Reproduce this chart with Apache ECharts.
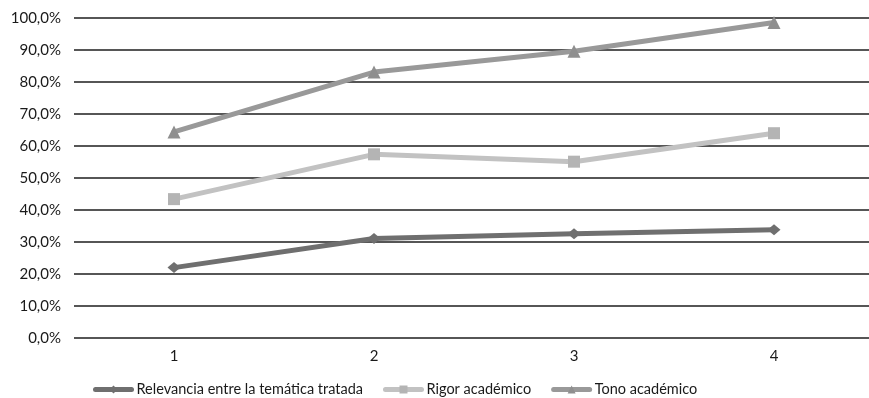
<!DOCTYPE html>
<html>
<head>
<meta charset="utf-8">
<script src="https://cdn.jsdelivr.net/npm/echarts@6/dist/echarts.min.js"></script>
<style>
  html, body { margin: 0; padding: 0; background: #fff; }
  #chart { width: 869px; height: 398px; }
</style>
</head>
<body>
<div id="chart"></div>
<script>
// Categories along the horizontal axis
const categories = ['1', '2', '3', '4'];

// Series values (percent)
const relevancia = [22.0, 31.1, 32.6, 33.8];
const rigor = [43.4, 57.4, 55.1, 64.0];
const tono = [64.4, 83.1, 89.6, 98.6];

const seriesNames = ['Relevancia entre la temática tratada', 'Rigor académico', 'Tono académico'];

const fontFamily = 'Lato, "Noto Sans", sans-serif';

const chart = echarts.init(document.getElementById('chart'), null, { renderer: 'canvas' });

function lineSeries(name, data, color, markerColor, symbol, size) {
  return {
    name: name,
    type: 'line',
    data: data,
    symbol: symbol,
    symbolSize: size,
    showSymbol: true,
    lineStyle: { color: color, width: 5, cap: 'round', join: 'round' },
    itemStyle: { color: markerColor, borderWidth: 0 },
    emphasis: { disabled: true },
    animation: false,
    z: 3
  };
}

chart.setOption({
  animation: false,
  grid: {
    left: 74, width: 800, top: 18, bottom: 60,
    containLabel: false,
    outerBoundsMode: 'none'
  },
  legend: {
    top: 377,
    left: 88,
    itemWidth: 36,
    itemHeight: 10,
    itemGap: 20,
    lineStyle: { width: 5 },
    textStyle: { fontFamily: fontFamily, fontSize: 14.5, color: '#1a1a1a' },
    data: seriesNames
  },
  xAxis: {
    type: 'category',
    data: categories,
    boundaryGap: true,
    axisLine: { show: false },
    axisTick: { show: false },
    axisLabel: { fontFamily: fontFamily, fontSize: 15, color: '#1a1a1a', margin: 11 },
    splitLine: { show: false }
  },
  yAxis: {
    type: 'value',
    min: 0,
    max: 100,
    interval: 10,
    axisLine: { show: false },
    axisTick: { show: false },
    axisLabel: {
      fontFamily: fontFamily,
      fontSize: 15,
      color: '#1a1a1a',
      margin: 13,
      formatter: v => v.toFixed(1).replace('.', ',') + '%'
    },
    splitLine: { show: true, lineStyle: { color: '#1e1e1e', width: 1.6 } }
  },
  series: [
    lineSeries(seriesNames[0], relevancia, '#6f6f6f', '#6f6f6f', 'diamond', [13, 11]),
    lineSeries(seriesNames[1], rigor, '#c2c2c2', '#b4b4b4', 'rect', 12),
    lineSeries(seriesNames[2], tono, '#999999', '#8f8f8f', 'triangle', 13)
  ]
});
</script>
</body>
</html>
